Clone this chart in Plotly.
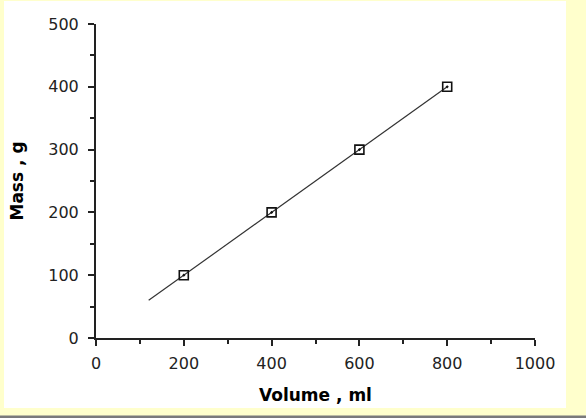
import plotly.graph_objects as go
import numpy as np

volume = [200, 400, 600, 800]
mass = [100, 200, 300, 400]
fit_x = [120, 800]

coef = np.polyfit(volume, mass, 1)
fit_y = [coef[0] * v + coef[1] for v in fit_x]

fig = go.Figure()
fig.add_trace(go.Scatter(x=fit_x, y=fit_y, mode="lines",
                         line=dict(color="#333333", width=1.2), showlegend=False))
fig.add_trace(go.Scatter(x=volume, y=mass, mode="markers",
                         marker=dict(symbol="square-open-dot", size=9, color="#111111",
                                     line=dict(width=1.6, color="#111111")),
                         showlegend=False))

L, R, T, B = 96, 51, 24, 80
W, H = 586, 418
pw, ph = W - L - R, H - T - B

def px(xp):
    return (xp - L) / pw

def py(yp):
    return (H - B - yp) / ph

fig.add_shape(type="rect", xref="paper", yref="paper", x0=px(4), x1=px(566), y0=py(408), y1=py(1),
              fillcolor="white", line=dict(width=0), layer="below")
fig.add_shape(type="rect", xref="paper", yref="paper", x0=px(-5), x1=px(600), y0=py(420), y1=py(415.5),
              fillcolor="#7a7a7a", line=dict(width=0), layer="below")

font = dict(family="DejaVu Sans", size=16, color="#222222")
title_font = dict(family="DejaVu Sans", size=17, color="#000000")
fig.update_layout(
    width=W, height=H,
    margin=dict(l=L, r=R, t=T, b=B),
    paper_bgcolor="#FFFFCC", plot_bgcolor="rgba(0,0,0,0)",
    font=font,
    xaxis=dict(range=[0, 1000], tickvals=[0, 200, 400, 600, 800, 1000], showgrid=False, zeroline=False,
               showline=True, linecolor="#222222", linewidth=2, ticks="outside", ticklen=6, tickwidth=2,
               tickcolor="#222222", minor=dict(dtick=100, ticks="outside", ticklen=4, tickwidth=2, tickcolor="#222222"),
               ticklabelstandoff=4,
               title=dict(text="<b>Volume , ml</b>", font=title_font, standoff=17)),
    yaxis=dict(range=[0, 500], tickvals=[0, 100, 200, 300, 400, 500], showgrid=False, zeroline=False,
               showline=True, linecolor="#222222", linewidth=2, ticks="outside", ticklen=6, tickwidth=2,
               tickcolor="#222222", minor=dict(dtick=50, ticks="outside", ticklen=4, tickwidth=2, tickcolor="#222222"),
               ticklabelstandoff=6,
               title=dict(text="<b>Mass , g</b>", font=title_font, standoff=20)),
)
fig.write_html("out.html", config={"displayModeBar": False},
               post_script="document.body.style.margin='0';")
